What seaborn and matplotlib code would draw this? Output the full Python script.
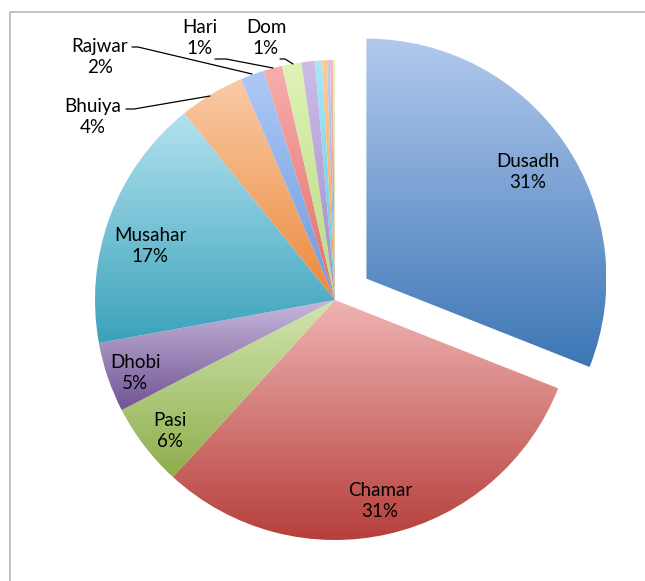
import matplotlib
matplotlib.use("Agg")
import matplotlib.pyplot as plt
import seaborn as sns
import numpy as np
from matplotlib.colors import LinearSegmentedColormap

# --- Data ---
castes = ["Dusadh", "Chamar", "Pasi", "Dhobi", "Musahar", "Bhuiya",
          "Rajwar", "Hari", "Dom", "Pan", "Turi", "Bantar", "Chaupal", "Kanjar", "Others"]
shares = [30.9, 30.7, 5.6, 4.7, 17.0, 4.4,
          1.6, 1.25, 1.3, 0.9, 0.47, 0.33, 0.2, 0.2, 0.13]
labelled = ["Dusadh", "Chamar", "Pasi", "Dhobi", "Musahar", "Bhuiya", "Rajwar", "Hari", "Dom"]

# light (top) -> dark (bottom) gradient per slice, Excel style
grad_colors = [
    ("#B2C9EE", "#3C76B5"),
    ("#EFB4B2", "#B63F3B"),
    ("#D3E6B0", "#8EAD4B"),
    ("#C7B9DC", "#715494"),
    ("#B3E2EF", "#3AA2BB"),
    ("#FACAA6", "#EC893C"),
    ("#AFC9F6", "#6C99DE"),
    ("#F8AEAD", "#DE6D6A"),
    ("#DFF3B6", "#B9DA83"),
    ("#CDBDE8", "#A18BC9"),
    ("#A9E7F6", "#5DC6DF"),
    ("#FFCB9A", "#F59F4E"),
    ("#BCD0F3", "#86A8E3"),
    ("#F5BDBB", "#E38986"),
    ("#E3F3C2", "#C5DE9C"),
]

# --- Layout (pixel space of a 645x581 canvas) ---
W, H = 645, 581
CENTER = (335, H - 300)
RADIUS = 240
# matplotlib offsets exploded wedges in data units
explode = [38] + [0] * (len(shares) - 1)

# inside labels (x, y_img) and outside labels with leader lines
label_pos = {
    "Dusadh": (528, 172), "Chamar": (380, 501), "Pasi": (170, 431),
    "Dhobi": (135, 373), "Musahar": (150, 246),
    "Bhuiya": (93, 117), "Rajwar": (100, 57), "Hari": (200, 38), "Dom": (266, 38),
}
leaders = {
    "Bhuiya": [(126, 109), (134, 109), (210, 96)],
    "Rajwar": [(132, 47), (138, 47), (252, 74)],
    "Hari": [(215, 59), (226, 59), (273, 68)],
    "Dom": [(280, 59), (285, 59), (293, 64)],
}

sns.set_style("white")
plt.rcParams["font.family"] = ["Lato", "DejaVu Sans"]

fig = plt.figure(figsize=(W / 100, H / 100), dpi=100)
ax = fig.add_axes([0, 0, 1, 1])

wedges, _ = ax.pie(shares, explode=explode, startangle=90, counterclock=False,
                   center=CENTER, radius=RADIUS, colors=["none"] * len(shares),
                   wedgeprops={"linewidth": 0})

grad = np.linspace(0, 1, 256).reshape(-1, 1)
for w, (c_top, c_bot) in zip(wedges, grad_colors):
    ext = w.get_path().get_extents()
    cmap = LinearSegmentedColormap.from_list("g", [c_top, c_bot])
    im = ax.imshow(grad, cmap=cmap, aspect="auto", origin="upper",
                   extent=[ext.x0, ext.x1, ext.y0, ext.y1], zorder=2,
                   interpolation="bilinear")
    im.set_clip_path(w)

total = sum(shares)
for name, val in zip(castes, shares):
    if name not in labelled:
        continue
    x, y = label_pos[name]
    ax.text(x, H - y, f"{name}\n{val / total * 100:.0f}%", ha="center", va="center",
            fontsize=13.5, color="#000000", linespacing=1.35, zorder=5)

for name, pts in leaders.items():
    xs = [p[0] for p in pts]
    ys = [H - p[1] for p in pts]
    ax.plot(xs, ys, color="black", lw=0.9, zorder=4)

# chart area frame (only top and left edges visible)
ax.plot([9.5, 9.5, W + 5], [-5, H - 11.5, H - 11.5], color="#BDBDBD", lw=1.3, zorder=1)

ax.set_xlim(0, W)
ax.set_ylim(0, H)
ax.axis("off")

fig.savefig("out.png", dpi=100)
